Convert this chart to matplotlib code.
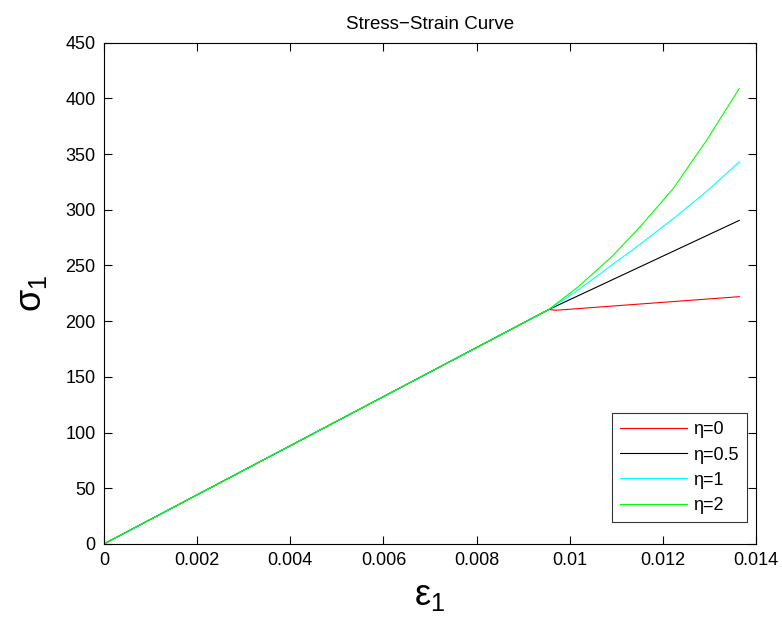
import matplotlib
matplotlib.use('Agg')
import matplotlib.pyplot as plt

plt.rcParams['font.family'] = ['Liberation Sans', 'DejaVu Sans']
plt.rcParams['mathtext.fontset'] = 'custom'
plt.rcParams['mathtext.rm'] = 'Liberation Sans'
plt.rcParams['mathtext.it'] = 'Liberation Sans'

# strain / stress samples for each hardening parameter
strain_0 = [0.0, 0.00955, 0.0097, 0.01364]
stress_0 = [0.0, 210.5, 209.8, 222.0]

strain_05 = [0.0, 0.00955, 0.01364]
stress_05 = [0.0, 210.5, 290.5]

strain_1 = [0.0, 0.00955, 0.01018, 0.0109, 0.01151, 0.01222, 0.01294, 0.01364]
stress_1 = [0.0, 210.5, 227.9, 250.3, 269.0, 292.0, 316.5, 343.0]

strain_2 = [0.0, 0.00955, 0.01018, 0.0109, 0.01151, 0.01222, 0.01294, 0.01364]
stress_2 = [0.0, 210.5, 230.8, 257.8, 284.7, 319.0, 362.5, 409.0]

labels = ['η=0', 'η=0.5', 'η=1', 'η=2']
colors = ['#ff0000', '#000000', '#00ffff', '#00ff00']

xticks = [0, 0.002, 0.004, 0.006, 0.008, 0.01, 0.012, 0.014]
xticklabels = ['0', '0.002', '0.004', '0.006', '0.008', '0.01', '0.012', '0.014']
yticks = list(range(0, 451, 50))

fig = plt.figure(figsize=(7.82, 6.22), dpi=100)
ax = fig.add_axes([0.133, 0.1256, 0.8338, 0.8056])

series = [(strain_0, stress_0), (strain_05, stress_05), (strain_1, stress_1), (strain_2, stress_2)]
for (x, y), lab, c in zip(series, labels, colors):
    ax.plot(x, y, color=c, lw=0.8, label=lab)

ax.set_xlim(0, 0.014)
ax.set_ylim(0, 450)
ax.set_xticks(xticks)
ax.set_xticklabels(xticklabels)
ax.set_yticks(yticks)
ax.tick_params(direction='in', top=True, right=True, length=6, width=0.8,
               labelsize=13, pad=6)
for s in ax.spines.values():
    s.set_linewidth(0.8)

ax.set_title('Stress\u2212Strain Curve', fontsize=13.5, pad=10)
ax.set_xlabel(r'$\mathregular{\varepsilon_1}$', fontsize=26, labelpad=6)
ax.set_ylabel(r'$\mathregular{\sigma_1}$', fontsize=26, labelpad=12)

leg = ax.legend(loc='lower right', bbox_to_anchor=(0.986, 0.0437), borderaxespad=0,
                fontsize=13, frameon=True, fancybox=False, edgecolor='black',
                handlelength=3.7, labelspacing=0.45, handletextpad=0.35,
                borderpad=0.45)
leg.get_frame().set_linewidth(0.8)

fig.savefig('out.png', dpi=100)
